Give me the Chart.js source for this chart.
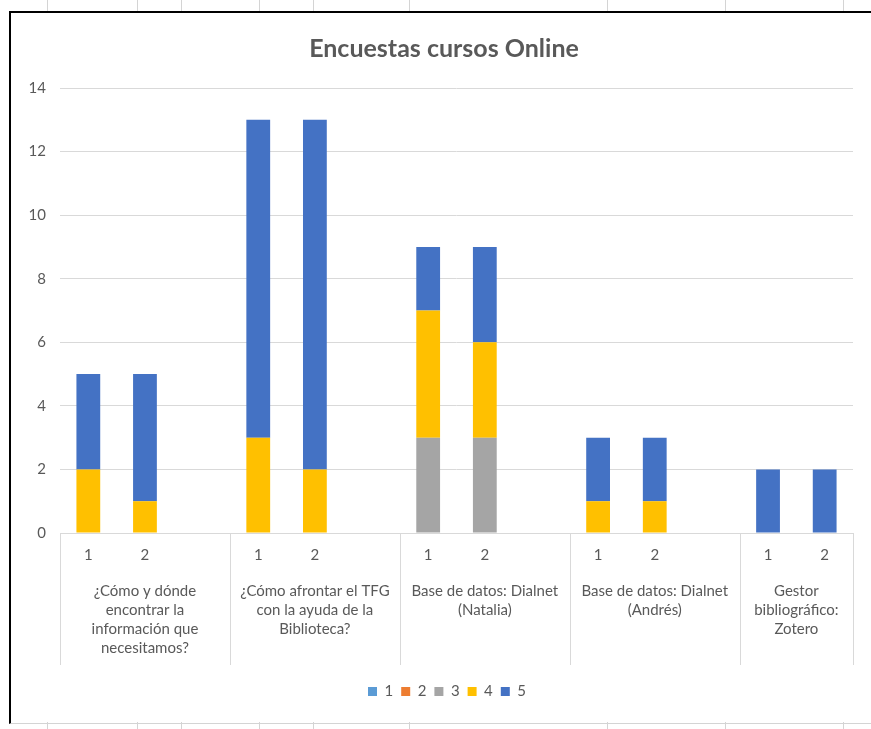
<!DOCTYPE html>
<html>
<head>
<meta charset="utf-8">
<script src="https://cdn.jsdelivr.net/npm/chart.js@4"></script>
<style>
  body { margin: 0; background: #fff; }
  #wrap { position: relative; width: 871px; height: 729px; overflow: hidden; }
  .frame { position: absolute; left: 9px; top: 11px; width: 870px; height: 710px;
    border-left: 2px solid #000; border-top: 2px solid #000; border-bottom: 1px solid #d4d4d4; }
  .col { position: absolute; width: 1px; background: #d4d4d4; }
  canvas { position: absolute; left: 0; top: 0; }
</style>
</head>
<body>
<div id="wrap">
  <div class="frame"></div>
  <canvas id="myChart" width="871" height="729"></canvas>
</div>
<script>
const FONT = "Lato, 'Open Sans', sans-serif";
const TEXT = "#595959";

// slot labels (each group has 1, 2 and an empty spacer slot, the last has no spacer)
const categories = ["1", "2", "", "1", "2", "", "1", "2", "", "1", "2", "", "1", "2"];
const groupSizes = [3, 3, 3, 3, 2];
const groupLabels = [
  ["¿Cómo y dónde", "encontrar la", "información que", "necesitamos?"],
  ["¿Cómo afrontar el TFG", "con la ayuda de la", "Biblioteca?"],
  ["Base de datos: Dialnet", "(Natalia)"],
  ["Base de datos: Dialnet", "(Andrés)"],
  ["Gestor", "bibliográfico:", "Zotero"],
];

const seriesNames = ["1", "2", "3", "4", "5"];
const seriesColors = ["#5b9bd5", "#ed7d31", "#a5a5a5", "#ffc000", "#4472c4"];
const s1 = [0, 0, null, 0, 0, null, 0, 0, null, 0, 0, null, 0, 0];
const s2 = [0, 0, null, 0, 0, null, 0, 0, null, 0, 0, null, 0, 0];
const s3 = [0, 0, null, 0, 0, null, 3, 3, null, 0, 0, null, 0, 0];
const s4 = [2, 1, null, 3, 2, null, 4, 3, null, 1, 1, null, 0, 0];
const s5 = [3, 4, null, 10, 11, null, 2, 3, null, 2, 2, null, 2, 2];
const seriesValues = [s1, s2, s3, s4, s5];

// spreadsheet column lines peeking out above and below the chart
const sheetCols = [47, 137, 181, 259, 313, 409, 607, 725, 843];
const wrap = document.getElementById("wrap");
sheetCols.forEach((cx) => {
  [[0, 11], [722, 7]].forEach(([t, h]) => {
    const d = document.createElement("div");
    d.className = "col";
    d.style.left = cx + "px";
    d.style.top = t + "px";
    d.style.height = h + "px";
    wrap.appendChild(d);
  });
});

// excel centres title and legend a bit right of the canvas centre
const nudge = {
  id: "nudge",
  afterUpdate(chart) {
    chart.titleBlock.left += 12;
    chart.titleBlock.right += 12;
    chart.legend.left += 15;
    chart.legend.right += 15;
    chart.legend.adjustHitBoxes();
  },
};

// draws the second level of the category axis: separators and group names
const groupAxis = {
  id: "groupAxis",
  afterDraw(chart) {
    const x = chart.scales.x;
    const ctx = chart.ctx;
    const top = x.top;
    const bottom = x.top + 132;
    const edge = (i) => {
      if (i <= 0) return x.left;
      if (i >= categories.length) return x.right;
      return (x.getPixelForValue(i - 1) + x.getPixelForValue(i)) / 2;
    };
    ctx.save();
    ctx.strokeStyle = "#d9d9d9";
    ctx.lineWidth = 1;
    ctx.fillStyle = TEXT;
    ctx.font = "15px " + FONT;
    ctx.textAlign = "center";
    ctx.textBaseline = "middle";
    let start = 0;
    groupSizes.forEach((size, g) => {
      const a = edge(start), b = edge(start + size);
      [a, b].forEach((px) => {
        ctx.beginPath();
        ctx.moveTo(Math.round(px) + 0.5, top);
        ctx.lineTo(Math.round(px) + 0.5, bottom);
        ctx.stroke();
      });
      const mid = (a + b) / 2;
      groupLabels[g].forEach((line, k) => {
        ctx.fillText(line, mid, top + 58 + k * 19);
      });
      start += size;
    });
    ctx.restore();
  },
};

const ctx = document.getElementById("myChart");

new Chart(ctx, {
  type: "bar",
  data: {
    labels: categories,
    datasets: seriesNames.map((name, i) => ({
      label: name,
      data: seriesValues[i],
      backgroundColor: seriesColors[i],
      barPercentage: 0.42,
      categoryPercentage: 1,
    })),
  },
  options: {
    responsive: false,
    animation: false,
    layout: { padding: { left: 11, right: 18, top: 13, bottom: 20 } },
    plugins: {
      title: {
        display: true,
        text: "Encuestas cursos Online",
        color: TEXT,
        font: { family: FONT, size: 25, weight: "bold" },
        padding: { top: 21, bottom: 24 },
      },
      legend: {
        position: "bottom",
        labels: {
          boxWidth: 9,
          boxHeight: 9,
          padding: 8,
          color: TEXT,
          font: { family: FONT, size: 15 },
        },
      },
      tooltip: { enabled: false },
    },
    scales: {
      x: {
        stacked: true,
        grid: { display: false },
        border: { color: "#d9d9d9" },
        ticks: {
          color: TEXT,
          font: { family: FONT, size: 15 },
          padding: 5,
          autoSkip: false,
          maxRotation: 0,
        },
        afterFit(scale) {
          scale.height = 143;
        },
      },
      y: {
        stacked: true,
        min: 0,
        max: 14,
        ticks: {
          stepSize: 2,
          color: TEXT,
          font: { family: FONT, size: 15 },
          padding: 14,
        },
        grid: { color: "#d9d9d9", drawTicks: false },
        border: { display: false },
        afterFit(scale) {
          scale.width = 49;
        },
      },
    },
  },
  plugins: [groupAxis, nudge],
});
</script>
</body>
</html>
